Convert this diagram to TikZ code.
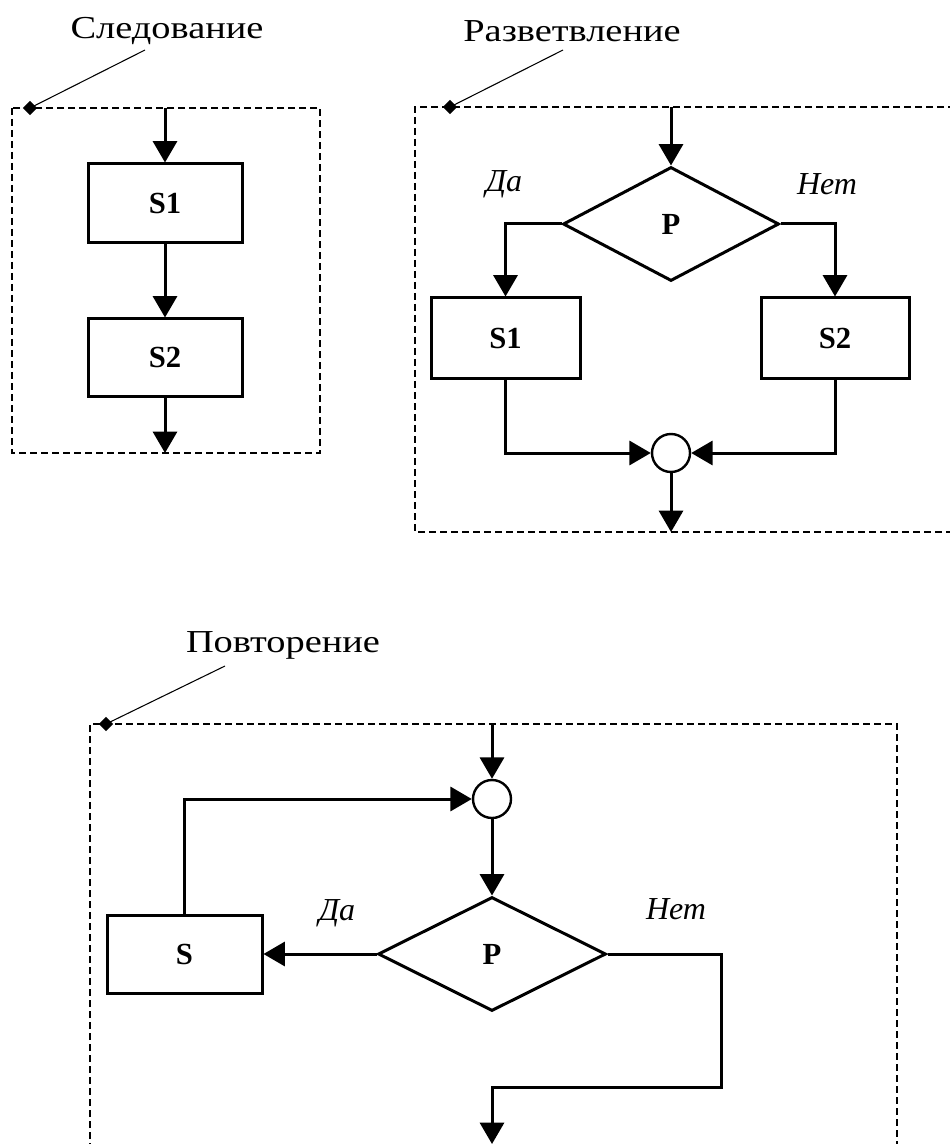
\documentclass[tikz,border=0pt]{standalone}
\usepackage{fontspec}
\setmainfont{Liberation Serif}
\newfontfamily\titlefont[FakeStretch=1.2]{Liberation Serif}
\usetikzlibrary{arrows.meta,shapes.geometric}
\begin{document}
\begin{tikzpicture}[x=0.75pt,y=-0.75pt,
  flow/.style={line width=2.25pt,-{Triangle[length=16pt,width=18pt]}},
  block/.style={draw,line width=2.25pt,rectangle,inner sep=0pt,font=\bfseries\fontsize{23}{27}\selectfont},
  cond/.style={draw,line width=2.25pt,diamond,inner sep=0pt,font=\bfseries\fontsize{23}{27}\selectfont},
  joint/.style={draw,line width=1.8pt,circle,inner sep=0pt,minimum size=28.5pt},
  frame/.style={line width=0.8pt,dash pattern=on 5.25pt off 3pt},
  leader/.style={line width=0.8pt},
  dotmark/.style={fill,diamond,inner sep=0pt,minimum size=11pt},
  title/.style={font=\titlefont\fontsize{24}{28}\selectfont},
  answer/.style={font=\itshape\fontsize{24}{28}\selectfont}]
\useasboundingbox (0,0) rectangle (949,1144);

% ---------- Sequence ----------
\draw[frame] (12,108) rectangle (320,453);
\node[dotmark] (dA) at (30,108) {};
\coordinate (lA) at (145,50);
\draw[leader] (dA.center) -- (lA);
\node[title] (tA) at (167,31) {Следование};
\node[block,minimum width=115.5pt,minimum height=59.25pt] (a1) at (165,203.5) {S1};
\node[block,minimum width=115.5pt,minimum height=57.75pt] (a2) at (165,357.5) {S2};
\coordinate (aIn) at (165,108);
\coordinate (aOut) at (165,453);
\draw[flow] (aIn) -- (a1.north);
\draw[flow] (a1.south) -- (a2.north);
\draw[flow] (a2.south) -- (aOut);

% ---------- Branching ----------
\draw[frame] (955,107) -- (415,107) -- (415,532) -- (955,532);
\node[dotmark] (dB) at (450,107) {};
\coordinate (lB) at (563,50);
\draw[leader] (dB.center) -- (lB);
\node[title] (tB) at (572,31) {Разветвление};
\node[cond,minimum width=162pt,minimum height=85.5pt] (bP) at (671,224) {P};
\node[block,minimum width=111.75pt,minimum height=60pt] (b1) at (505.5,338) {S1};
\node[block,minimum width=111pt,minimum height=60pt] (b2) at (835,338) {S2};
\node[joint] (bJ) at (671,453) {};
\coordinate (bIn) at (671,107);
\coordinate (bOut) at (671,532);
\draw[flow] (bIn) -- (bP.north);
\draw[flow] (bP.west) -| (b1.north);
\draw[flow] (bP.east) -| (b2.north);
\draw[flow] (b1.south) |- (bJ.west);
\draw[flow] (b2.south) |- (bJ.east);
\draw[flow] (bJ.south) -- (bOut);
\node[answer] (bYes) at (504,184) {Да};
\node[answer] (bNo) at (827,184) {Нет};

% ---------- Repetition ----------
\draw[frame] (90,1150) -- (90,724) -- (897,724) -- (897,1150);
\node[dotmark] (dC) at (106,724) {};
\coordinate (lC) at (225,666);
\draw[leader] (dC.center) -- (lC);
\node[title] (tC) at (283,645) {Повторение};
\node[joint] (cJ) at (492,799) {};
\node[cond,minimum width=171pt,minimum height=85.5pt] (cP) at (492,954) {P};
\node[block,minimum width=116.25pt,minimum height=58.5pt] (cS) at (184.5,954) {S};
\coordinate (cIn) at (492,724);
\coordinate (cLoop) at (184.5,799);
\coordinate (cR1) at (721,954);
\coordinate (cR2) at (721,1087);
\coordinate (cR3) at (492,1087);
\coordinate (cOut) at (492,1144);
\draw[flow] (cIn) -- (cJ.north);
\draw[flow] (cJ.south) -- (cP.north);
\draw[flow] (cP.west) -- (cS.east);
\draw[flow] (cS.north) -- (cLoop) -- (cJ.west);
\draw[flow] (cP.east) -- (cR1) -- (cR2) -- (cR3) -- (cOut);
\node[answer] (cYes) at (337,913) {Да};
\node[answer] (cNo) at (676,909) {Нет};
\end{tikzpicture}
\end{document}
